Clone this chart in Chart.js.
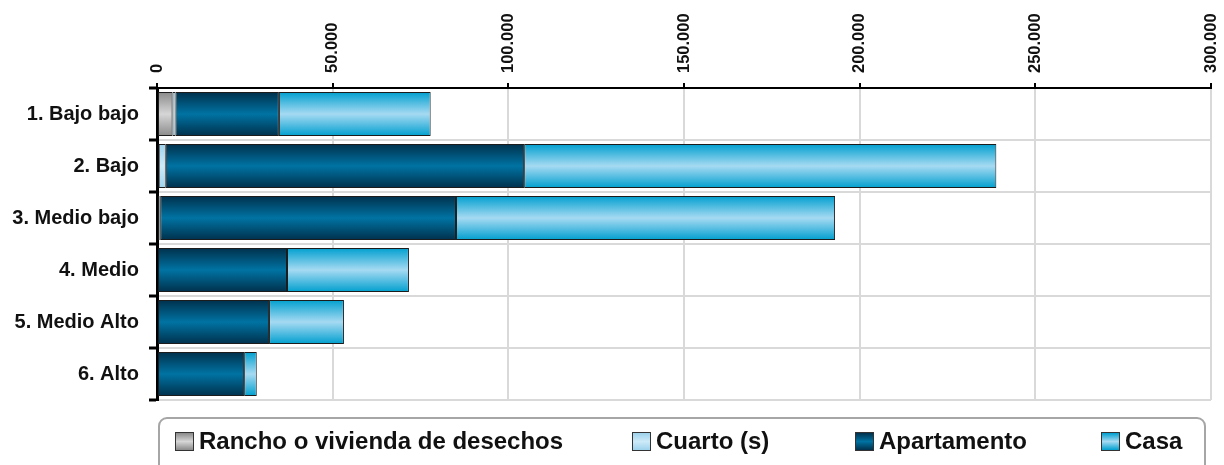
<!DOCTYPE html>
<html>
<head>
<meta charset="utf-8">
<script src="https://cdn.jsdelivr.net/npm/chart.js@4.4.1/dist/chart.umd.min.js"></script>
<style>
  html, body { margin: 0; padding: 0; background: #fff; }
  #wrap { position: relative; width: 1224px; height: 465px; overflow: hidden; }
  #grafico { position: absolute; left: 0; top: 0; }
  #leyenda {
    position: absolute; left: 158px; top: 417px; width: 1048px; height: 70px;
    border: 2px solid #a6a6a6; border-radius: 9px; box-sizing: border-box;
    font-family: 'Liberation Sans', Arial, sans-serif; font-weight: bold; font-size: 24px; color: #111;
  }
  .item { position: absolute; top: 8px; white-space: nowrap; line-height: 28px; }
  .marca { display: inline-block; width: 17px; height: 17px; border: 1px solid #333; vertical-align: -2px; margin-right: 5px; }
</style>
</head>
<body>
<div id="wrap">
  <canvas id="grafico" width="1224" height="465"></canvas>
  <div id="leyenda"></div>
</div>
<script>
// Datos
const categorias = ['1. Bajo bajo', '2. Bajo', '3. Medio bajo', '4. Medio', '5. Medio Alto', '6. Alto'];
const rancho = [4400, 0, 0, 0, 0, 0];
const otro = [0, 500, 700, 0, 0, 0];
const cuarto = [900, 2000, 200, 0, 0, 0];
const apartamento = [29400, 102000, 84200, 37000, 31900, 24800];
const casa = [43200, 134400, 107900, 34700, 21300, 3600];
const ticksX = [0, 50000, 100000, 150000, 200000, 250000, 300000];

const fuente = "'Liberation Sans', Arial, sans-serif";
const BAR_PCT = 0.85;

// Degradado vertical por barra (oscuro en los bordes, claro al centro)
function degradado(bordes, centro) {
    return ctx => {
        const chart = ctx.chart;
        const y = chart.scales.y;
        if (!chart.chartArea || !y || ctx.dataIndex === undefined) return centro;
        const c = y.getPixelForValue(ctx.dataIndex);
        const mitad = (chart.chartArea.height / categorias.length) * BAR_PCT / 2;
        const g = chart.ctx.createLinearGradient(0, c - mitad, 0, c + mitad);
        g.addColorStop(0, bordes);
        g.addColorStop(0.5, centro);
        g.addColorStop(1, bordes);
        return g;
    };
}

const series = [
    { label: 'Rancho o vivienda de desechos', data: rancho, bordes: '#8a8a8a', centro: '#d6d6d6', leyenda: true },
    { label: 'Otro', data: otro, bordes: '#c08a00', centro: '#f5c518', leyenda: false },
    { label: 'Cuarto (s)', data: cuarto, bordes: '#9ed2ec', centro: '#cdeaf8', leyenda: true },
    { label: 'Apartamento', data: apartamento, bordes: '#00304c', centro: '#0073a3', leyenda: true },
    { label: 'Casa', data: casa, bordes: '#009fcf', centro: '#a6daf2', leyenda: true }
];

const datasets = series.map(s => ({
    label: s.label,
    data: s.data,
    backgroundColor: degradado(s.bordes, s.centro),
    borderColor: '#1c1c1c',
    borderWidth: 1,
    borderSkipped: false,
    barPercentage: BAR_PCT,
    categoryPercentage: 1
}));

function formato(v) {
    return String(v).replace(/\B(?=(\d{3})+(?!\d))/g, '.');
}

new Chart(document.getElementById('grafico').getContext('2d'), {
    type: 'bar',
    data: { labels: categorias, datasets: datasets },
    options: {
        indexAxis: 'y',
        responsive: false,
        animation: false,
        layout: { padding: { left: 0, top: 0, right: 13, bottom: 65 } },
        plugins: {
            legend: { display: false },
            tooltip: { enabled: false }
        },
        scales: {
            x: {
                position: 'top',
                stacked: true,
                min: 0,
                max: 300000,
                afterBuildTicks: scale => { scale.ticks = ticksX.map(v => ({ value: v })); },
                afterFit: scale => { scale.height = 88; },
                ticks: {
                    minRotation: 90,
                    maxRotation: 90,
                    padding: 10,
                    labelOffset: 20,
                    color: '#111',
                    font: { family: fuente, size: 16.5, weight: 'bold' },
                    callback: v => formato(v)
                },
                grid: { color: '#d9d9d9', lineWidth: 2, tickColor: '#000', tickLength: 5, tickWidth: 2 },
                border: { color: '#000', width: 2 }
            },
            y: {
                stacked: true,
                afterFit: scale => { scale.width = 157; },
                ticks: {
                    padding: 10,
                    color: '#111',
                    font: { family: fuente, size: 20, weight: 'bold' }
                },
                grid: { color: '#d9d9d9', lineWidth: 2, tickColor: '#000', tickLength: 8, tickWidth: 3 },
                border: { color: '#000', width: 3 }
            }
        }
    }
});

// Leyenda inferior en recuadro
const posiciones = [175, 632, 855, 1101];
const leyenda = document.getElementById('leyenda');
series.filter(s => s.leyenda).forEach((s, i) => {
    const item = document.createElement('div');
    item.className = 'item';
    item.style.left = (posiciones[i] - 160) + 'px';
    const marca = document.createElement('span');
    marca.className = 'marca';
    marca.style.background = `linear-gradient(${s.bordes}, ${s.centro} 50%, ${s.bordes})`;
    item.appendChild(marca);
    item.appendChild(document.createTextNode(s.label));
    leyenda.appendChild(item);
});
</script>
</body>
</html>
